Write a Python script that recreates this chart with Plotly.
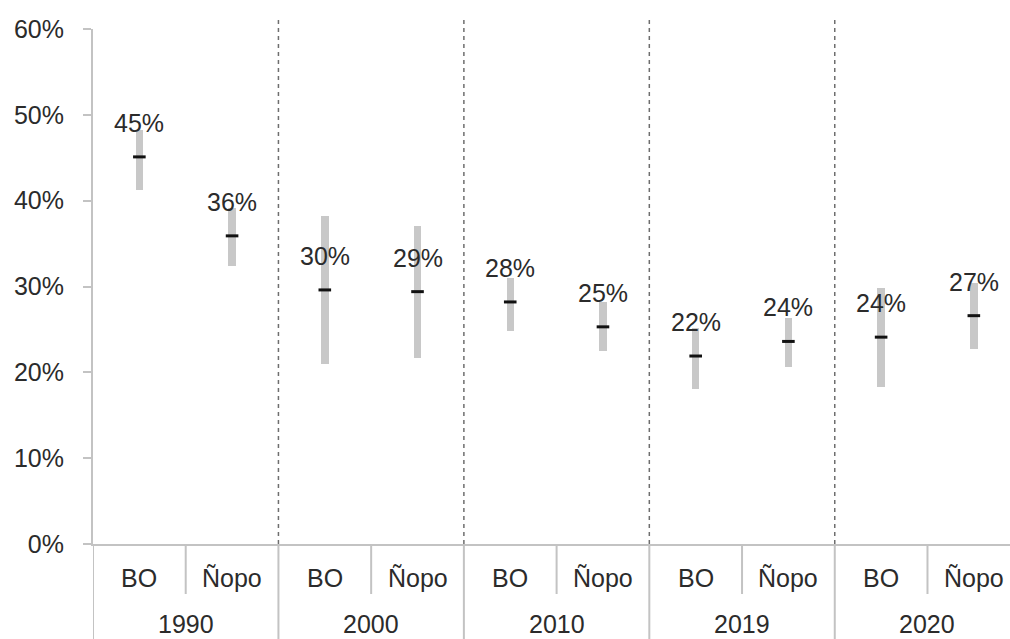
import plotly.graph_objects as go

# Survey years and decomposition methods
years = ["1990", "2000", "2010", "2019", "2020"]
methods = ["BO", "Ñopo"]

# Point estimate and interval bounds, ordered year by year (BO, Ñopo)
means = [0.451, 0.359, 0.296, 0.294, 0.282, 0.253, 0.219, 0.236, 0.241, 0.266]
lows = [0.412, 0.324, 0.210, 0.217, 0.2485, 0.225, 0.1806, 0.2066, 0.183, 0.227]
highs = [0.482, 0.391, 0.382, 0.370, 0.310, 0.282, 0.252, 0.263, 0.298, 0.304]

y_ticks = [0.0, 0.1, 0.2, 0.3, 0.4, 0.5, 0.6]

FONT = "Liberation Sans, Arial, sans-serif"
TXT = "#2b2b2b"
AXIS = "#c3c3c3"
FS = 25

n = len(means)
xs = list(range(n))

fig = go.Figure()

# Interval bars
fig.add_trace(go.Bar(
    x=xs,
    y=[h - l for h, l in zip(highs, lows)],
    base=lows,
    width=0.08,
    marker=dict(color="#c8c8c8", line=dict(width=0)),
    hoverinfo="skip",
    showlegend=False,
))

# Point estimates
fig.add_trace(go.Scatter(
    x=xs,
    y=means,
    mode="markers",
    marker=dict(symbol="line-ew", size=9, line=dict(width=3, color="#111111")),
    showlegend=False,
))

# Value labels above each estimate
for x, m in zip(xs, means):
    fig.add_annotation(
        x=x, y=m, xref="x", yref="y",
        text=f"{m:.0%}", showarrow=False,
        yanchor="middle", yshift=34,
        font=dict(family=FONT, size=FS, color=TXT),
    )

# Two-level category labels under the axis
for i, yr in enumerate(years):
    for j, meth in enumerate(methods):
        fig.add_annotation(
            x=2 * i + j, y=0, xref="x", yref="paper",
            text=meth, showarrow=False,
            yanchor="middle", yshift=-34,
            font=dict(family=FONT, size=FS, color=TXT),
        )
    fig.add_annotation(
        x=2 * i + 0.5, y=0, xref="x", yref="paper",
        text=yr, showarrow=False,
        yanchor="middle", yshift=-80,
        font=dict(family=FONT, size=FS, color=TXT),
    )

shapes = []
bottom = -95 / 515.0
top_dot = 1 + 9 / 515.0
# separators between methods inside a year
for i in range(len(years)):
    shapes.append(dict(type="line", xref="x", yref="paper",
                       x0=2 * i + 0.5, x1=2 * i + 0.5, y0=0, y1=-50 / 515.0,
                       line=dict(color=AXIS, width=2)))
# separators between years
for i in range(len(years) + 1):
    xb = 2 * i - 0.5
    shapes.append(dict(type="line", xref="x", yref="paper",
                       x0=xb, x1=xb, y0=0, y1=bottom,
                       line=dict(color=AXIS, width=2)))
    if 0 < i < len(years):
        shapes.append(dict(type="line", xref="x", yref="paper",
                           x0=xb, x1=xb, y0=0, y1=top_dot,
                           line=dict(color="#6e6e6e", width=1.5, dash="4px,4px")))

fig.update_layout(
    width=1010, height=639,
    margin=dict(l=93, r=0, t=29, b=95),
    paper_bgcolor="white",
    plot_bgcolor="white",
    shapes=shapes,
    font=dict(family=FONT, size=FS, color=TXT),
    bargap=0,
)
fig.update_xaxes(
    range=[-0.5, 9.39],
    showticklabels=False,
    showgrid=False,
    zeroline=False,
    showline=True,
    linecolor=AXIS,
    linewidth=2,
    ticks="",
    fixedrange=True,
)
fig.update_yaxes(
    range=[0, 0.6],
    tickvals=y_ticks,
    tickformat=".0%",
    showgrid=False,
    zeroline=False,
    showline=True,
    linecolor=AXIS,
    linewidth=2,
    ticks="outside",
    ticklen=8,
    tickwidth=2,
    tickcolor=AXIS,
    ticklabelstandoff=14,
    tickfont=dict(family=FONT, size=FS, color=TXT),
    fixedrange=True,
)

fig.write_html("out.html")
